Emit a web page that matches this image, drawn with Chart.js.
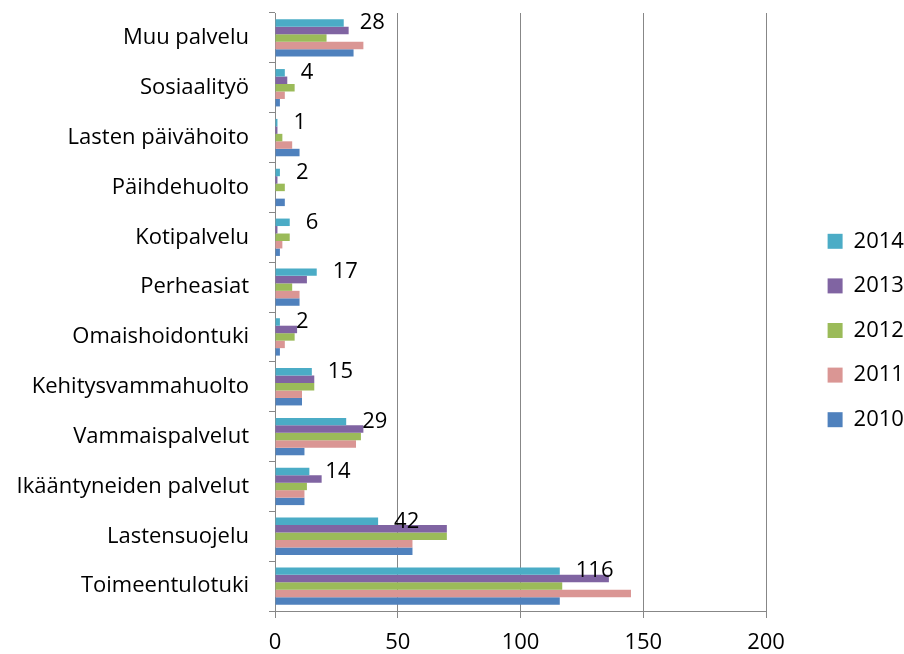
<!DOCTYPE html>
<html><head><meta charset="utf-8">
<script src="https://cdn.jsdelivr.net/npm/chart.js@4"></script>
<style>html,body{margin:0;padding:0;background:#fff}canvas{display:block}</style>
</head><body>
<canvas id="c" width="904" height="654"></canvas>
<script>
const categories = ['Muu palvelu','Sosiaalityö','Lasten päivähoito','Päihdehuolto','Kotipalvelu','Perheasiat','Omaishoidontuki','Kehitysvammahuolto','Vammaispalvelut','Ikääntyneiden palvelut','Lastensuojelu','Toimeentulotuki'];
const years = ['2014','2013','2012','2011','2010'];
const v2014 = [28,4,1,2,6,17,2,15,29,14,42,116];
const v2013 = [30,5,1,1,1,13,9,16,36,19,70,136];
const v2012 = [21,8,3,4,6,7,8,16,35,13,70,117];
const v2011 = [36,4,7,0,3,10,4,11,33,12,56,145];
const v2010 = [32,2,10,4,2,10,2,11,12,12,56,116];
const labelValues = v2014;
const xTicks = [0,50,100,150,200];

const colors = ['#4BACC6','#8064A2','#9BBB59','#DA9694','#4F81BD'];
const series = [v2014,v2013,v2012,v2011,v2010];
const FONT = 'Open Sans';

const legendPlace = {
  id:'legendPlace',
  beforeLayout(chart){
    const lg = chart.legend;
    if (lg && !lg._patched){
      const f = lg.fit;
      lg.fit = function(){ f.call(this); this.width = 138; };
      lg._patched = true;
    }
  },
  afterLayout(chart){
    const lg = chart.legend;
    lg.left = 805; lg.right = 904;
    lg.top = lg.top - 3; lg.bottom = lg.bottom - 3;
  }
};

const valueLabels = {
  id:'valueLabels',
  afterDatasetsDraw(chart){
    const meta = chart.getDatasetMeta(0);
    const ctx = chart.ctx;
    ctx.save();
    ctx.font = '22px "' + FONT + '"';
    ctx.fillStyle = '#000';
    ctx.textAlign = 'left';
    ctx.textBaseline = 'middle';
    meta.data.forEach((el,i)=>{ ctx.fillText(String(labelValues[i]), el.x + 16, el.y); });
    ctx.restore();
  }
};

new Chart(document.getElementById('c'), {
  type:'bar',
  data:{
    labels: categories,
    datasets: years.map((y,i)=>({label:y, data:series[i], backgroundColor:colors[i], borderWidth:0}))
  },
  options:{
    indexAxis:'y',
    responsive:false,
    animation:false,
    layout:{padding:{top:13,left:0,right:0,bottom:0}},
    datasets:{bar:{categoryPercentage:0.75, barPercentage:1}},
    scales:{
      x:{
        min:0, max:200,
        afterBuildTicks(s){ s.ticks = xTicks.map(v=>({value:v})); },
        ticks:{font:{family:FONT,size:22}, color:'#000', padding:12},
        grid:{color:'#878787', tickLength:7, drawTicks:true},
        border:{color:'#878787'},
        afterFit(s){ s.height = 43; s.paddingLeft = 0; s.paddingRight = 0; }
      },
      y:{
        ticks:{font:{family:FONT,size:22}, color:'#000', padding:20},
        grid:{drawOnChartArea:false, tickLength:6, color:'#878787', offset:true},
        border:{color:'#878787'},
        afterFit(s){ s.width = 275; s.paddingTop = 0; s.paddingBottom = 0; }
      }
    },
    plugins:{
      legend:{position:'right', labels:{boxWidth:15, boxHeight:15, padding:22.6, font:{family:FONT,size:22}, color:'#000'}},
      tooltip:{enabled:false}
    }
  },
  plugins:[legendPlace, valueLabels]
});
</script>
</body></html>
